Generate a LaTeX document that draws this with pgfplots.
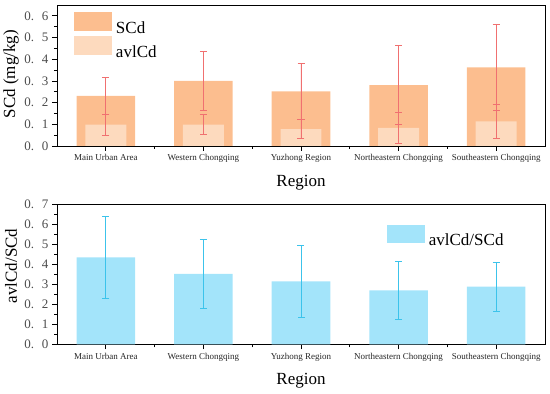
\documentclass[border=0pt]{standalone}
\usepackage{pgfplots}
\pgfplotsset{compat=1.18}
\usepackage{fontspec}
\setmainfont{Liberation Serif}
\definecolor{scdcol}{RGB}{252,190,143}
\definecolor{avlcol}{RGB}{253,218,190}
\definecolor{errred}{RGB}{240,112,112}
\definecolor{bluebar}{RGB}{163,228,250}
\definecolor{blueerr}{RGB}{60,195,235}
\pgfplotsset{
  commonax/.style={
    scale only axis, width=488pt,
    xmin=-0.5, xmax=4.5, ymin=0,
    axis line style={line width=0.8pt, black},
    tick style={line width=0.8pt, black},
    tick align=outside, xtick pos=bottom, ytick pos=left,
    major tick length=5pt, minor tick length=3pt,
    xtick={0,1,2,3,4},
    minor xtick={0.5,1.5,2.5,3.5},
    xticklabels={Main Urban Area, Western Chongqing, Yuzhong Region, Northeastern Chongqing, Southeastern Chongqing},
    xticklabel style={font=\fontsize{9}{10}\selectfont, text=black!85},
    yticklabel style={font=\fontsize{13}{14}\selectfont, text=black!70},
    minor y tick num=1,
    label style={font=\fontsize{17}{18}\selectfont},
    legend cell align=left,
    legend style={draw=none, fill=none, inner sep=0pt, outer sep=0pt, row sep=2pt,
      font=\fontsize{17}{18}\selectfont, nodes={inner sep=0pt, text depth=0pt}},
  },
}
\newcommand{\lab}[1]{0.\hspace{0.6em}#1}
\begin{document}
\begin{tikzpicture}
\path[use as bounding box] (0,0) rectangle (550pt,394pt);
% top axis
\begin{axis}[commonax,
  at={(57pt,248pt)}, anchor=south west, height=141pt,
  ymax=0.65,
  ytick={0,0.1,0.2,0.3,0.4,0.5,0.6},
  yticklabels={\lab{0},\lab{1},\lab{2},\lab{3},\lab{4},\lab{5},\lab{6}},
  xlabel={Region}, ylabel={SCd (mg/kg)},
  xlabel style={at={(axis description cs:0.5,-0.262)}, anchor=center},
  ylabel style={at={(axis description cs:-0.094,0.51)}, anchor=center},
  legend style={at={(axis description cs:0.0348,0.948)}, anchor=north west},
]
\addplot[ybar, bar width=0.6, bar shift=0pt, fill=scdcol, draw=none,
  legend image code/.code={\fill[scdcol] (0pt,-3.5pt) rectangle (38pt,15.5pt); \path (42pt,0pt);},
  error bars/.cd, y dir=both, y explicit,
  error bar style={color=errred, line width=0.7pt},
  error mark options={rotate=90, mark size=3.5pt, line width=0.7pt, color=errred}]
  table[x=x, y=y, y error=e] {
x y e
0 0.231 0.086
1 0.300 0.135
2 0.252 0.130
3 0.281 0.182
4 0.363 0.200
};
\addlegendentry{SCd}
\addplot[ybar, bar width=0.42, bar shift=0pt, fill=avlcol, draw=none,
  legend image code/.code={\fill[avlcol] (0pt,-3.5pt) rectangle (38pt,15.5pt); \path (42pt,0pt);},
  error bars/.cd, y dir=both, y explicit,
  error bar style={color=errred, line width=0.7pt},
  error mark options={rotate=90, mark size=3.5pt, line width=0.7pt, color=errred}]
  table[x=x, y=y, y error=e] {
x y e
0 0.098 0.049
1 0.098 0.046
2 0.078 0.045
3 0.084 0.071
4 0.114 0.079
};
\addlegendentry{avlCd}
\end{axis}
% bottom axis
\begin{axis}[commonax,
  at={(57pt,49.7pt)}, anchor=south west, height=140pt,
  ymax=0.7,
  ytick={0,0.1,0.2,0.3,0.4,0.5,0.6,0.7},
  yticklabels={\lab{0},\lab{1},\lab{2},\lab{3},\lab{4},\lab{5},\lab{6},\lab{7}},
  xlabel={Region}, ylabel={avlCd/SCd},
  xlabel style={at={(axis description cs:0.5,-0.257)}, anchor=center},
  ylabel style={at={(axis description cs:-0.094,0.56)}, anchor=center},
  legend style={at={(axis description cs:0.676,0.852)}, anchor=north west},
]
\addplot[ybar, bar width=0.6, bar shift=0pt, fill=bluebar, draw=none,
  legend image code/.code={\fill[bluebar] (0pt,-3pt) rectangle (38pt,15pt); \path (42pt,0pt);},
  error bars/.cd, y dir=both, y explicit,
  error bar style={color=blueerr, line width=0.7pt},
  error mark options={rotate=90, mark size=3.5pt, line width=0.7pt, color=blueerr}]
  table[x=x, y=y, y error=e] {
x y e
0 0.435 0.206
1 0.352 0.171
2 0.315 0.180
3 0.270 0.144
4 0.288 0.123
};
\addlegendentry{avlCd/SCd}
\end{axis}
\end{tikzpicture}
\end{document}
